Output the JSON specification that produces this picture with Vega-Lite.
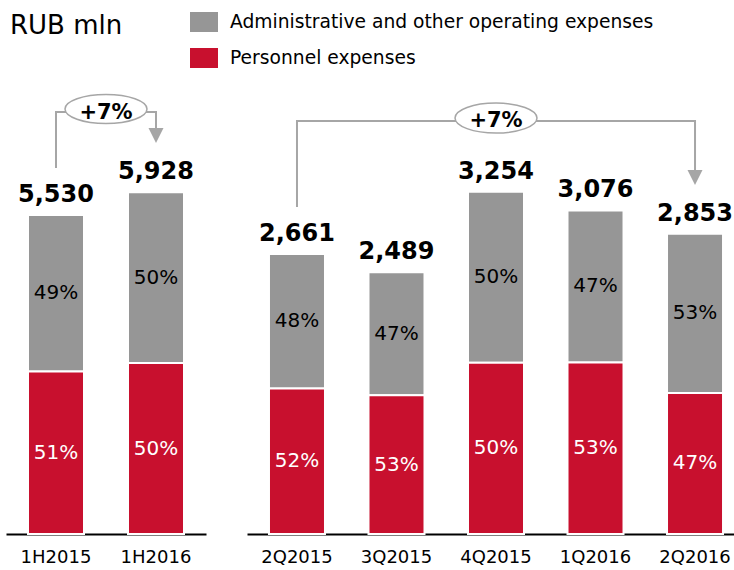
{
  "$schema": "https://vega.github.io/schema/vega-lite/v6.json",
  "padding": {"left": 6, "top": 0, "right": 0, "bottom": 0},
  "background": "white",
  "title": {"text": "RUB mln", "anchor": "start", "fontSize": 26, "fontWeight": "normal", "font": "DejaVu Sans", "color": "black", "offset": -60, "baseline": "alphabetic", "dx": 4},
  "config": {
    "view": {"stroke": null},
    "axis": {"title": null, "labelAngle": 0, "ticks": false, "grid": false, "domainColor": "black", "domainWidth": 2, "labelFontSize": 18, "labelFont": "DejaVu Sans", "labelColor": "black", "labelPadding": 14},
    "text": {"font": "DejaVu Sans"}
  },
  "datasets": {
    "bars": [
      {"panel": "H", "period": "1H2015", "category": "Administrative and other operating expenses", "value": 2710, "pct": 0.49},
      {"panel": "H", "period": "1H2015", "category": "Personnel expenses", "value": 2820, "pct": 0.51},
      {"panel": "H", "period": "1H2016", "category": "Administrative and other operating expenses", "value": 2964, "pct": 0.50},
      {"panel": "H", "period": "1H2016", "category": "Personnel expenses", "value": 2964, "pct": 0.50},
      {"panel": "Q", "period": "2Q2015", "category": "Administrative and other operating expenses", "value": 1277, "pct": 0.48},
      {"panel": "Q", "period": "2Q2015", "category": "Personnel expenses", "value": 1384, "pct": 0.52},
      {"panel": "Q", "period": "3Q2015", "category": "Administrative and other operating expenses", "value": 1170, "pct": 0.47},
      {"panel": "Q", "period": "3Q2015", "category": "Personnel expenses", "value": 1319, "pct": 0.53},
      {"panel": "Q", "period": "4Q2015", "category": "Administrative and other operating expenses", "value": 1627, "pct": 0.50},
      {"panel": "Q", "period": "4Q2015", "category": "Personnel expenses", "value": 1627, "pct": 0.50},
      {"panel": "Q", "period": "1Q2016", "category": "Administrative and other operating expenses", "value": 1446, "pct": 0.47},
      {"panel": "Q", "period": "1Q2016", "category": "Personnel expenses", "value": 1630, "pct": 0.53},
      {"panel": "Q", "period": "2Q2016", "category": "Administrative and other operating expenses", "value": 1512, "pct": 0.53},
      {"panel": "Q", "period": "2Q2016", "category": "Personnel expenses", "value": 1341, "pct": 0.47}
    ],
    "linksH": [
      {"pos": 0.5, "y": 6347, "seq": 1},
      {"pos": 0.5, "y": 7318, "seq": 2},
      {"pos": 1.5, "y": 7318, "seq": 3},
      {"pos": 1.5, "y": 7040, "seq": 4}
    ],
    "badgeH": [
      {"pos": 1.0, "ey": 7370, "ty": 7292, "label": "+7%", "apos": 1.5, "ay": 6910}
    ],
    "linksQ": [
      {"period": "2Q2015", "y": 3108, "seq": 1},
      {"period": "2Q2015", "y": 3926, "seq": 2},
      {"period": "2Q2016", "y": 3926, "seq": 3},
      {"period": "2Q2016", "y": 3460, "seq": 4}
    ],
    "badgeQ": [
      {"period": "4Q2015", "ey": 3954, "ty": 3926, "label": "+7%"}
    ],
    "arrowQ": [
      {"period": "2Q2016", "ay": 3389}
    ]
  },
  "spacing": 41,
  "resolve": {"scale": {"x": "independent", "y": "independent", "color": "shared"}},
  "hconcat": [
    {
      "width": 200,
      "height": 534,
      "resolve": {"scale": {"x": "independent"}},
      "layer": [
        {
          "data": {"name": "bars"},
          "transform": [{"filter": "datum.panel == 'H'"}],
          "encoding": {
            "x": {"field": "period", "type": "nominal", "sort": null, "scale": {"domain": ["1H2015", "1H2016"], "paddingInner": 0.44, "paddingOuter": 0.22}}
          },
          "layer": [
            {
              "mark": {"type": "bar", "stroke": "white", "strokeWidth": 2},
              "encoding": {
                "y": {"field": "value", "type": "quantitative", "stack": "zero", "scale": {"domain": [0, 9260], "nice": false}, "axis": null},
                "color": {"field": "category", "type": "nominal", "scale": {"domain": ["Administrative and other operating expenses", "Personnel expenses"], "range": ["#969696", "#C8102E"]},
                  "legend": {"orient": "none", "legendX": 188, "legendY": 12, "title": null, "direction": "vertical", "symbolType": "M-1.4,-1 L1.4,-1 L1.4,1 L-1.4,1 Z", "symbolSize": 400, "symbolStrokeWidth": 0, "symbolOpacity": 1, "labelFontSize": 18.7, "labelFont": "DejaVu Sans", "labelColor": "black", "labelOffset": 16, "rowPadding": 16, "labelLimit": 600, "padding": 0}},
                "order": {"field": "category", "sort": "descending"}
              }
            },
            {
              "transform": [
                {"stack": "value", "groupby": ["period"], "sort": [{"field": "category", "order": "descending"}], "as": ["v0", "v1"]},
                {"fold": ["v0", "v1"], "as": ["edge", "edgepos"]},
                {"aggregate": [{"op": "mean", "field": "edgepos", "as": "mid"}], "groupby": ["period", "category", "pct"]}
              ],
              "mark": {"type": "text", "fontSize": 20, "baseline": "middle"},
              "encoding": {
                "y": {"field": "mid", "type": "quantitative", "scale": {"domain": [0, 9260], "nice": false}, "axis": null},
                "text": {"field": "pct", "type": "quantitative", "format": ".0%"},
                "color": {"condition": {"test": "datum.category == 'Personnel expenses'", "value": "white"}, "value": "black"}
              }
            },
            {
              "mark": {"type": "text", "fontSize": 24, "fontWeight": "bold", "baseline": "alphabetic", "dy": -13, "color": "black"},
              "encoding": {
                "y": {"aggregate": "sum", "field": "value", "type": "quantitative", "scale": {"domain": [0, 9260], "nice": false}, "axis": null},
                "text": {"aggregate": "sum", "field": "value", "type": "quantitative", "format": ",d"}
              }
            }
          ]
        },
        {
          "layer": [
            {
              "data": {"name": "linksH"},
              "mark": {"type": "line", "color": "#a6a6a6", "strokeWidth": 2},
              "encoding": {
                "x": {"field": "pos", "type": "quantitative", "scale": {"domain": [0, 2], "nice": false, "zero": false}, "axis": null},
                "y": {"field": "y", "type": "quantitative", "scale": {"domain": [0, 9260], "nice": false}, "axis": null},
                "order": {"field": "seq"}
              }
            },
            {
              "data": {"name": "badgeH"},
              "mark": {"type": "point", "shape": "M-1,0 A1,0.354 0 1,0 1,0 A1,0.354 0 1,0 -1,0 Z", "size": 6724, "filled": true, "fill": "white", "stroke": "#a6a6a6", "strokeWidth": 1.5, "opacity": 1},
              "encoding": {
                "x": {"field": "pos", "type": "quantitative", "scale": {"domain": [0, 2], "nice": false, "zero": false}, "axis": null},
                "y": {"field": "ey", "type": "quantitative", "scale": {"domain": [0, 9260], "nice": false}, "axis": null}
              }
            },
            {
              "data": {"name": "badgeH"},
              "mark": {"type": "text", "fontSize": 21, "fontWeight": "bold", "baseline": "middle", "color": "black"},
              "encoding": {
                "x": {"field": "pos", "type": "quantitative", "scale": {"domain": [0, 2], "nice": false, "zero": false}, "axis": null},
                "y": {"field": "ty", "type": "quantitative", "scale": {"domain": [0, 9260], "nice": false}, "axis": null},
                "text": {"field": "label"}
              }
            },
            {
              "data": {"name": "badgeH"},
              "mark": {"type": "point", "shape": "M-1,-1 L1,-1 L0,1 Z", "size": 225, "filled": true, "color": "#a6a6a6", "opacity": 1},
              "encoding": {
                "x": {"field": "apos", "type": "quantitative", "scale": {"domain": [0, 2], "nice": false, "zero": false}, "axis": null},
                "y": {"field": "ay", "type": "quantitative", "scale": {"domain": [0, 9260], "nice": false}, "axis": null}
              }
            }
          ]
        }
      ]
    },
    {
      "width": 487,
      "height": 534,
      "encoding": {
        "x": {"field": "period", "type": "nominal", "sort": null, "scale": {"domain": ["2Q2015", "3Q2015", "4Q2015", "1Q2016", "2Q2016"], "paddingInner": 0.4372, "paddingOuter": 0.1656, "align": 0.667}}
      },
      "layer": [
        {
          "data": {"name": "bars"},
          "transform": [{"filter": "datum.panel == 'Q'"}],
          "mark": {"type": "bar", "stroke": "white", "strokeWidth": 2},
          "encoding": {
            "y": {"field": "value", "type": "quantitative", "stack": "zero", "scale": {"domain": [0, 5076], "nice": false}, "axis": null},
            "color": {"field": "category", "type": "nominal", "scale": {"domain": ["Administrative and other operating expenses", "Personnel expenses"], "range": ["#969696", "#C8102E"]},
              "legend": {"orient": "none", "legendX": 188, "legendY": 12, "title": null, "direction": "vertical", "symbolType": "M-1.4,-1 L1.4,-1 L1.4,1 L-1.4,1 Z", "symbolSize": 400, "symbolStrokeWidth": 0, "symbolOpacity": 1, "labelFontSize": 18.7, "labelFont": "DejaVu Sans", "labelColor": "black", "labelOffset": 16, "rowPadding": 16, "labelLimit": 600, "padding": 0}},
            "order": {"field": "category", "sort": "descending"}
          }
        },
        {
          "data": {"name": "bars"},
          "transform": [
            {"filter": "datum.panel == 'Q'"},
            {"stack": "value", "groupby": ["period"], "sort": [{"field": "category", "order": "descending"}], "as": ["v0", "v1"]},
            {"fold": ["v0", "v1"], "as": ["edge", "edgepos"]},
            {"aggregate": [{"op": "mean", "field": "edgepos", "as": "mid"}], "groupby": ["period", "category", "pct"]}
          ],
          "mark": {"type": "text", "fontSize": 20, "baseline": "middle"},
          "encoding": {
            "y": {"field": "mid", "type": "quantitative", "scale": {"domain": [0, 5076], "nice": false}, "axis": null},
            "text": {"field": "pct", "type": "quantitative", "format": ".0%"},
            "color": {"condition": {"test": "datum.category == 'Personnel expenses'", "value": "white"}, "value": "black"}
          }
        },
        {
          "data": {"name": "bars"},
          "transform": [{"filter": "datum.panel == 'Q'"}],
          "mark": {"type": "text", "fontSize": 24, "fontWeight": "bold", "baseline": "alphabetic", "dy": -13, "color": "black"},
          "encoding": {
            "y": {"aggregate": "sum", "field": "value", "type": "quantitative", "scale": {"domain": [0, 5076], "nice": false}, "axis": null},
            "text": {"aggregate": "sum", "field": "value", "type": "quantitative", "format": ",d"}
          }
        },
        {
          "data": {"name": "linksQ"},
          "mark": {"type": "line", "color": "#a6a6a6", "strokeWidth": 2},
          "encoding": {
            "y": {"field": "y", "type": "quantitative", "scale": {"domain": [0, 5076], "nice": false}, "axis": null},
            "order": {"field": "seq"}
          }
        },
        {
          "data": {"name": "badgeQ"},
          "mark": {"type": "point", "shape": "M-1,0 A1,0.366 0 1,0 1,0 A1,0.366 0 1,0 -1,0 Z", "size": 6724, "filled": true, "fill": "white", "stroke": "#a6a6a6", "strokeWidth": 1.5, "opacity": 1},
          "encoding": {
            "y": {"field": "ey", "type": "quantitative", "scale": {"domain": [0, 5076], "nice": false}, "axis": null}
          }
        },
        {
          "data": {"name": "badgeQ"},
          "mark": {"type": "text", "fontSize": 21, "fontWeight": "bold", "baseline": "middle", "color": "black"},
          "encoding": {
            "y": {"field": "ty", "type": "quantitative", "scale": {"domain": [0, 5076], "nice": false}, "axis": null},
            "text": {"field": "label"}
          }
        },
        {
          "data": {"name": "arrowQ"},
          "mark": {"type": "point", "shape": "M-1,-1 L1,-1 L0,1 Z", "size": 225, "filled": true, "color": "#a6a6a6", "opacity": 1},
          "encoding": {
            "y": {"field": "ay", "type": "quantitative", "scale": {"domain": [0, 5076], "nice": false}, "axis": null}
          }
        }
      ]
    }
  ]
}
